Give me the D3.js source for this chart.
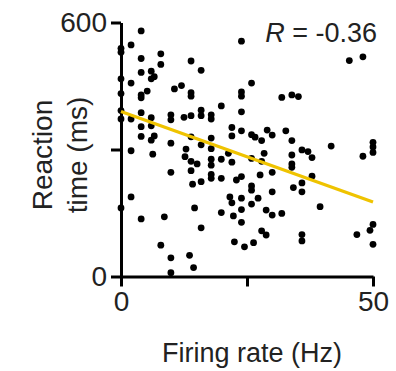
<!DOCTYPE html>
<meta charset="utf-8">
<style>
	body { margin: 0; background: white; }
	text { font-family: "Liberation Sans", Arial, sans-serif; fill: #222; }
	.axis path, .axis line { stroke: black; stroke-width: 3px; }
</style>
<html>
<body>
<script src="https://d3js.org/d3.v7.min.js"></script>
<script>
	// firing rate (Hz) for each trial
	var rate = [0, 0, 0, 0, 0, 0, 0,
		2, 2, 2, 2, 2,
		4, 4, 4, 4, 4, 4, 4, 4, 4,
		5.2, 6, 6, 6, 6, 6, 6.6, 6.6, 6.3,
		7.9, 7.9, 7.9, 8.6,
		9.9, 9.9, 9.9, 9.9, 9.9, 9.9,
		10.6, 12, 12.5, 12.9, 12.7, 13.6,
		13.9, 13.9, 13.9, 13.9, 13.9, 13.9, 13.9,
		14.2, 14.6, 14.4, 15.1,
		15.9, 15.9, 15.9, 15.9, 15.9, 15.9,
		17.9, 17.9, 17.9, 17.9, 17.9, 17.9, 17.9, 17.9,
		19.9, 19.9, 19.9, 19.9,
		21.3, 22, 22, 22, 21.6, 22, 22.3, 22.5, 22.9,
		23.9, 23.9, 23.9, 23.9, 23.9, 23.9, 23.9, 23.9, 23.9, 24.5,
		25.9, 25.9, 25.9, 25.9, 25.9, 25.9, 26.3, 26.6, 27.2, 27.6,
		27.9, 27.9, 27.9, 28.4, 28.8, 28.8, 29,
		30, 30, 30, 30, 31.9, 31.9, 32.7,
		33.9, 33.9, 33.9, 33.9, 33.9, 34.2, 35.2,
		35.9, 35.9, 35.9, 35.9, 35.9, 37.1, 37.9, 37.9, 39.5, 41.7,
		45.3, 46.8, 48, 48, 49.4,
		50, 50, 50, 50, 50];
	// reaction time (ms), same order
	var rt = [539, 530, 467, 432, 392, 372, 162,
		547, 457, 372, 297, 188,
		580, 515, 482, 429, 422, 387, 354, 331, 136,
		438, 485, 467, 375, 356, 322, 472, 332, 289,
		526, 501, 74, 141,
		382, 370, 315, 246, 44, 9,
		443, 451, 376, 301, 283, 50,
		509, 434, 426, 380, 330, 272, 250,
		218, 162, 21, 266,
		487, 393, 380, 311, 224, 115,
		382, 372, 327, 302, 277, 263, 241, 232,
		403, 277, 232, 151,
		291, 352, 332, 270, 188, 174, 143, 82, 228,
		556, 436, 426, 389, 344, 236, 185, 158, 128, 70,
		457, 335, 279, 214, 204, 171, 80, 329, 185, 240,
		321, 272, 108, 291, 157, 98, 346,
		334, 246, 200, 145, 423, 149, 344,
		429, 321, 287, 266, 258, 210, 425,
		299, 221, 200, 99, 84, 295, 281, 237, 165, 308,
		510, 99, 519, 284, 109,
		317, 306, 293, 123, 76];
	// regression line end points
	var fitX = [0, 50];
	var fitY = [390, 176];

	var xTicks = [0, 25, 50];
	var yTicks = [0, 300, 600];
	var rLabel = "-0.36";

	var width = 396, height = 371;
	var margin = {top: 22.5, left: 121, right: 23, bottom: 94.5};

	var x = d3.scaleLinear().domain([0, 50]).range([margin.left, width - margin.right]);
	var y = d3.scaleLinear().domain([0, 600]).range([height - margin.bottom, margin.top]);

	var svg = d3.select("body").append("svg")
		.attr("width", width)
		.attr("height", height);

	svg.append("g")
		.attr("class", "axis")
		.attr("transform", `translate(0,${height - margin.bottom})`)
		.call(d3.axisBottom(x).tickValues(xTicks).tickSize(10).tickSizeOuter(0)
			.tickFormat(d => d == 25 ? "" : d))
		.call(g => g.selectAll("text").attr("y", 14).attr("dy", "0.72em").style("font-size", "28px").attr("fill", "#222"));

	svg.append("g")
		.attr("class", "axis")
		.attr("transform", `translate(${margin.left},0)`)
		.call(d3.axisLeft(y).tickValues(yTicks).tickSize(10).tickSizeOuter(0)
			.tickFormat(d => d == 300 ? "" : d))
		.call(g => g.selectAll("text").attr("x", -14).style("font-size", "28px").attr("fill", "#222"));

	svg.append("g")
		.selectAll("circle")
		.data(rate.map((d, i) => [d, rt[i]]))
		.join("circle")
		.attr("cx", d => x(d[0]))
		.attr("cy", d => y(d[1]))
		.attr("r", 3.4)
		.attr("fill", "black");

	svg.append("line")
		.attr("x1", x(fitX[0])).attr("y1", y(fitY[0]))
		.attr("x2", x(fitX[1])).attr("y2", y(fitY[1]))
		.attr("stroke", "#EFC300")
		.attr("stroke-width", 3.2);

	var rt_ = svg.append("text")
		.attr("x", 377).attr("y", 42)
		.attr("text-anchor", "end")
		.style("font-size", "27px");
	rt_.append("tspan").style("font-style", "italic").text("R");
	rt_.append("tspan").text(" = " + rLabel);

	svg.append("text")
		.attr("x", 252).attr("y", 362)
		.attr("text-anchor", "middle")
		.style("font-size", "27px")
		.text("Firing rate (Hz)");

	svg.append("text")
		.attr("transform", "translate(52,155) rotate(-90)")
		.attr("text-anchor", "middle")
		.style("font-size", "28px")
		.text("Reaction");
	svg.append("text")
		.attr("transform", "translate(87,155) rotate(-90)")
		.attr("text-anchor", "middle")
		.style("font-size", "28px")
		.text("time (ms)");
</script>
</body>
</html>
